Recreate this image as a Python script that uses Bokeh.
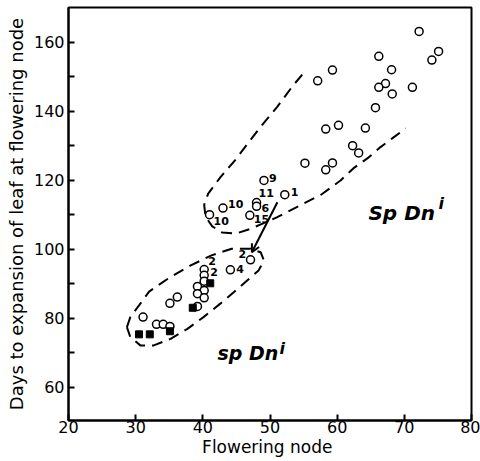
from bokeh.plotting import figure
from bokeh.models import FixedTicker, Arrow, OpenHead, ColumnDataSource
from bokeh.core.properties import value
from bokeh.embed import file_html
from bokeh.resources import INLINE

# ---------------- data ----------------
# open circles (flowering node, days)
open_x = [72.2, 66.2, 75.1, 74.1, 57.1, 59.3, 68.1, 67.2, 66.2, 68.2, 71.2, 65.7,
          58.3, 60.2, 64.2, 62.3, 63.2, 55.2, 58.3, 59.3, 49.1, 52.2, 48.0, 48.0,
          43.0, 41.0, 47.0,
          47.1, 44.1, 40.2, 40.2, 40.2, 39.2, 40.2, 39.2, 40.2, 36.2, 35.1, 39.2,
          31.1, 33.1, 34.1, 35.1]
open_y = [163.2, 156.0, 157.4, 154.9, 148.9, 152.0, 152.1, 148.1, 147.0, 145.1, 147.0, 141.1,
          134.9, 136.0, 135.2, 130.1, 128.0, 125.0, 123.1, 125.1, 120.0, 115.9, 113.6, 112.5,
          112.0, 110.1, 109.9,
          97.0, 94.1, 94.2, 92.5, 90.8, 89.3, 88.1, 87.2, 86.0, 86.2, 84.4, 83.5,
          80.4, 78.3, 78.3, 77.7]

# filled squares
sq_x = [41.1, 38.5, 35.1, 30.5, 32.1]
sq_y = [90.2, 83.1, 76.3, 75.4, 75.4]

# numbered points
lab_text = ["9", "1", "11", "6", "10", "10", "15", "2", "4", "2", "2"]
lab_x = [49.1, 52.2, 48.0, 48.0, 43.0, 41.0, 47.0, 47.1, 44.1, 40.2, 40.2]
lab_y = [120.0, 115.9, 113.6, 112.5, 112.0, 110.1, 109.9, 97.0, 94.1, 94.2, 92.5]
lab_dx = [5, 6, 2, 5, 5, 4, 4, -12, 6, 4, 6]
lab_dy = [-2, -3, -10, 2, -4, 6, 4, -6, -1, -8, -3]

# dashed envelopes
upper_env_x = [54.8, 53.3, 51.1, 49.0, 46.8, 44.9, 42.6, 40.8, 40.2, 40.4, 41.4, 42.9,
               44.9, 46.8, 48.9, 51.0, 54.5, 57.7, 60.5, 62.4, 64.7, 66.4, 68.4, 70.2]
upper_env_y = [150.7, 147.2, 141.4, 136.5, 131.0, 126.1, 120.9, 116.2, 113.0, 109.5, 106.7, 104.9,
               104.6, 105.8, 107.5, 109.3, 112.8, 116.0, 120.0, 123.5, 126.7, 129.6, 132.5, 135.1]
lower_env_x = [28.7, 29.2, 30.5, 32.0, 35.0, 38.2, 41.3, 44.3, 47.1, 48.6, 49.1, 48.3,
               46.6, 44.6, 42.6, 40.1, 37.7, 35.2, 32.7, 30.7, 29.2, 28.7]
lower_env_y = [77.5, 80.4, 83.8, 87.8, 91.8, 95.4, 98.3, 100.2, 100.2, 99.2, 96.8, 93.9,
               91.0, 87.6, 84.3, 80.4, 77.0, 74.1, 72.2, 72.2, 74.6, 77.5]

# arrow from point 1 to the transferred point
arrow_start = (51.1, 113.7)
arrow_end = (47.3, 99.2)

x_ticks = [20, 30, 40, 50, 60, 70, 80]
y_ticks = [60, 80, 100, 120, 140, 160]
y_minor = [70, 90, 110, 130, 150]

# ---------------- figure ----------------
p = figure(width=480, height=461, x_range=(20, 80), y_range=(50.43, 170.14),
           output_backend="svg", toolbar_location=None,
           min_border_left=68, min_border_right=9, min_border_top=7, min_border_bottom=41)
p.xgrid.visible = False
p.ygrid.visible = False
p.outline_line_color = "black"
p.outline_line_width = 2
p.background_fill_color = "white"
p.border_fill_color = "white"

FONT = "DejaVu Sans"

p.xaxis.ticker = FixedTicker(ticks=x_ticks)
p.yaxis.ticker = FixedTicker(ticks=y_ticks, minor_ticks=y_minor)
for ax in (p.xaxis, p.yaxis):
    ax.axis_line_width = 2
    ax.axis_line_color = "black"
    ax.major_tick_line_width = 2
    ax.minor_tick_line_width = 2
    ax.major_tick_line_color = "black"
    ax.minor_tick_line_color = "black"
    ax.major_tick_in = 6
    ax.major_tick_out = 0
    ax.minor_tick_in = 6
    ax.minor_tick_out = 0
    ax.major_label_text_font = FONT
    ax.major_label_text_font_size = "16px"
    ax.major_label_text_color = "black"
    ax.axis_label_text_font = FONT
    ax.axis_label_text_font_style = "normal"
    ax.axis_label_text_color = "black"
p.xaxis.major_label_standoff = 0
p.xaxis.axis_label = "Flowering  node"
p.xaxis.axis_label_text_font_size = "17px"
p.xaxis.axis_label_standoff = 1
p.yaxis.major_label_standoff = 4
p.yaxis.axis_label = "Days to expansion of leaf at flowering node"
p.yaxis.axis_label_text_font_size = "18px"
p.yaxis.axis_label_standoff = 4

# envelopes
p.line(upper_env_x, upper_env_y, line_color="black", line_width=2, line_dash="11 7")
p.line(lower_env_x, lower_env_y, line_color="black", line_width=2, line_dash="11 7")

# arrow
p.add_layout(Arrow(x_start=arrow_start[0], y_start=arrow_start[1],
                   x_end=arrow_end[0], y_end=arrow_end[1], line_width=2,
                   end=OpenHead(size=8, line_width=2)))

# points
p.scatter(open_x, open_y, marker="circle", size=8, fill_color="white",
          line_color="black", line_width=1.5)
p.scatter(sq_x, sq_y, marker="square", size=7, fill_color="black", line_color="black")

lab_src = ColumnDataSource(dict(x=lab_x, y=lab_y, t=lab_text, dx=lab_dx, dy=lab_dy))
p.text(x="x", y="y", text="t", x_offset="dx", y_offset="dy", source=lab_src,
       text_font=value(FONT), text_font_size="11px", text_font_style="bold",
       text_align="left", text_baseline="middle", text_color="black")

# genotype labels
p.text(x=[64.66], y=[110.7], text=["Sp Dn"], text_font=value(FONT), text_font_size="20px",
       text_font_style="bold italic", text_align="left", text_baseline="alphabetic")
p.text(x=[64.66], y=[110.7], text=["i"], x_offset=70, y_offset=-9, text_font=value(FONT),
       text_font_size="16px", text_font_style="bold italic", text_align="left",
       text_baseline="alphabetic")
p.text(x=[42.18], y=[69.86], text=["sp Dn"], text_font=value(FONT), text_font_size="19px",
       text_font_style="bold italic", text_align="left", text_baseline="alphabetic")
p.text(x=[42.18], y=[69.86], text=["i"], x_offset=62, y_offset=-5, text_font=value(FONT),
       text_font_size="16px", text_font_style="bold italic", text_align="left",
       text_baseline="alphabetic")

open("out.html", "w").write(file_html(p, INLINE))
